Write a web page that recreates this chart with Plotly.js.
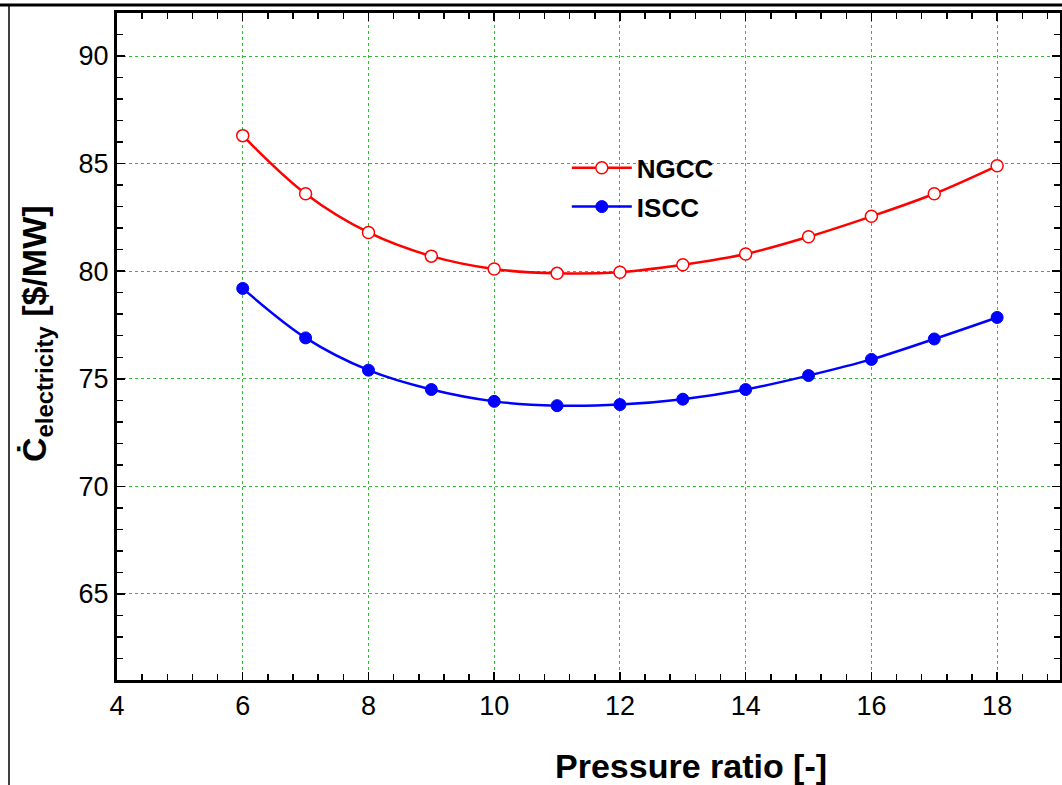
<!DOCTYPE html>
<html><head><meta charset="utf-8">
<script src="https://cdn.plot.ly/plotly-3.0.1.min.js"></script>
<style>html,body{margin:0;padding:0;background:#fff;}</style>
</head><body>
<div id="chart" style="width:1062px;height:785px;"></div>
<script>
const pressureRatio = [6,7,8,9,10,11,12,13,14,15,16,17,18];
const ngcc = [86.3,83.6,81.8,80.7,80.1,79.9,79.95,80.3,80.8,81.6,82.55,83.6,84.9];
const iscc = [79.2,76.9,75.4,74.5,73.95,73.75,73.8,74.05,74.5,75.15,75.9,76.85,77.85];
const xTicks = [4,6,8,10,12,14,16,18];
const yTicks = [65,70,75,80,85,90];

const traces = [
  {x: pressureRatio, y: ngcc, name: 'NGCC', type: 'scatter', mode: 'lines+markers', legendgroup: 'a',
   line: {color: '#ff0000', width: 2.5, shape: 'spline'},
   marker: {symbol: 'circle', size: 12, color: '#ffffff', line: {color: '#ff0000', width: 1.5}}},
  {x: pressureRatio, y: iscc, name: 'ISCC', type: 'scatter', mode: 'lines+markers', legendgroup: 'b',
   line: {color: '#0000ff', width: 2.5, shape: 'spline'},
   marker: {symbol: 'circle', size: 12, color: '#0000ff', line: {color: '#0000ff', width: 1}}}
];

const axisCommon = {
  showline: true, linecolor: '#000', linewidth: 3, mirror: 'ticks',
  ticks: 'inside', ticklen: 8, tickwidth: 1.5, tickcolor: '#000',
  showgrid: true, gridcolor: '#33bb33', gridwidth: 1, griddash: 'dot',
  zeroline: false,
  tickfont: {family: 'Liberation Sans, Arial, sans-serif', size: 27, color: '#000'}
};

const layout = {
  width: 1062, height: 785,
  margin: {l: 117, r: 2, t: 13, b: 105},
  paper_bgcolor: '#fff', plot_bgcolor: '#fff',
  showlegend: true,
  legend: {x: 0.477, y: 0.803, xanchor: 'left', yanchor: 'top', bgcolor: 'rgba(0,0,0,0)',
           font: {family: 'Liberation Sans, Arial, sans-serif', size: 26, color: '#000', weight: 'bold'},
           itemwidth: 60, tracegroupgap: 2},
  xaxis: Object.assign({}, axisCommon, {
    range: [4, 19], tickvals: xTicks, ticktext: xTicks.map(String),
    minor: {dtick: 0.4, tick0: 4, ticks: 'inside', ticklen: 6, tickwidth: 1.5, tickcolor: '#000', showgrid: false}
  }),
  yaxis: Object.assign({}, axisCommon, {
    range: [61, 92], tickvals: yTicks, ticktext: yTicks.map(String),
    minor: {dtick: 1, tick0: 61, ticks: 'inside', ticklen: 6, tickwidth: 1.5, tickcolor: '#000', showgrid: false}
  }),
  annotations: [
    {text: '<b>Pressure ratio [-]</b>', xref: 'paper', yref: 'paper', x: (691-117)/943, y: -(766-680)/667,
     xanchor: 'center', yanchor: 'middle', showarrow: false,
     font: {family: 'Liberation Sans, Arial, sans-serif', size: 34, color: '#000'}},
    {text: '<b>Ċ<sub>electricity</sub> [$/MW]</b>', xref: 'paper', yref: 'paper', x: (36-117)/943, y: 1-(334-13)/667,
     xanchor: 'center', yanchor: 'middle', showarrow: false, textangle: -90,
     font: {family: 'Liberation Sans, Arial, sans-serif', size: 34, color: '#000'}}
  ],
  shapes: [
    {type: 'line', xref: 'paper', yref: 'paper', x0: -0.2, x1: 1.01, y0: 1+(13-5)/667, y1: 1+(13-5)/667,
     line: {color: '#000', width: 3}},
    {type: 'line', xref: 'paper', yref: 'paper', x0: (9-117)/943, x1: (9-117)/943, y0: 1+(13-5)/667, y1: -0.2,
     line: {color: '#000', width: 1.5}}
  ]
};

Plotly.newPlot('chart', traces, layout, {displayModeBar: false, staticPlot: true});
</script>
</body></html>
